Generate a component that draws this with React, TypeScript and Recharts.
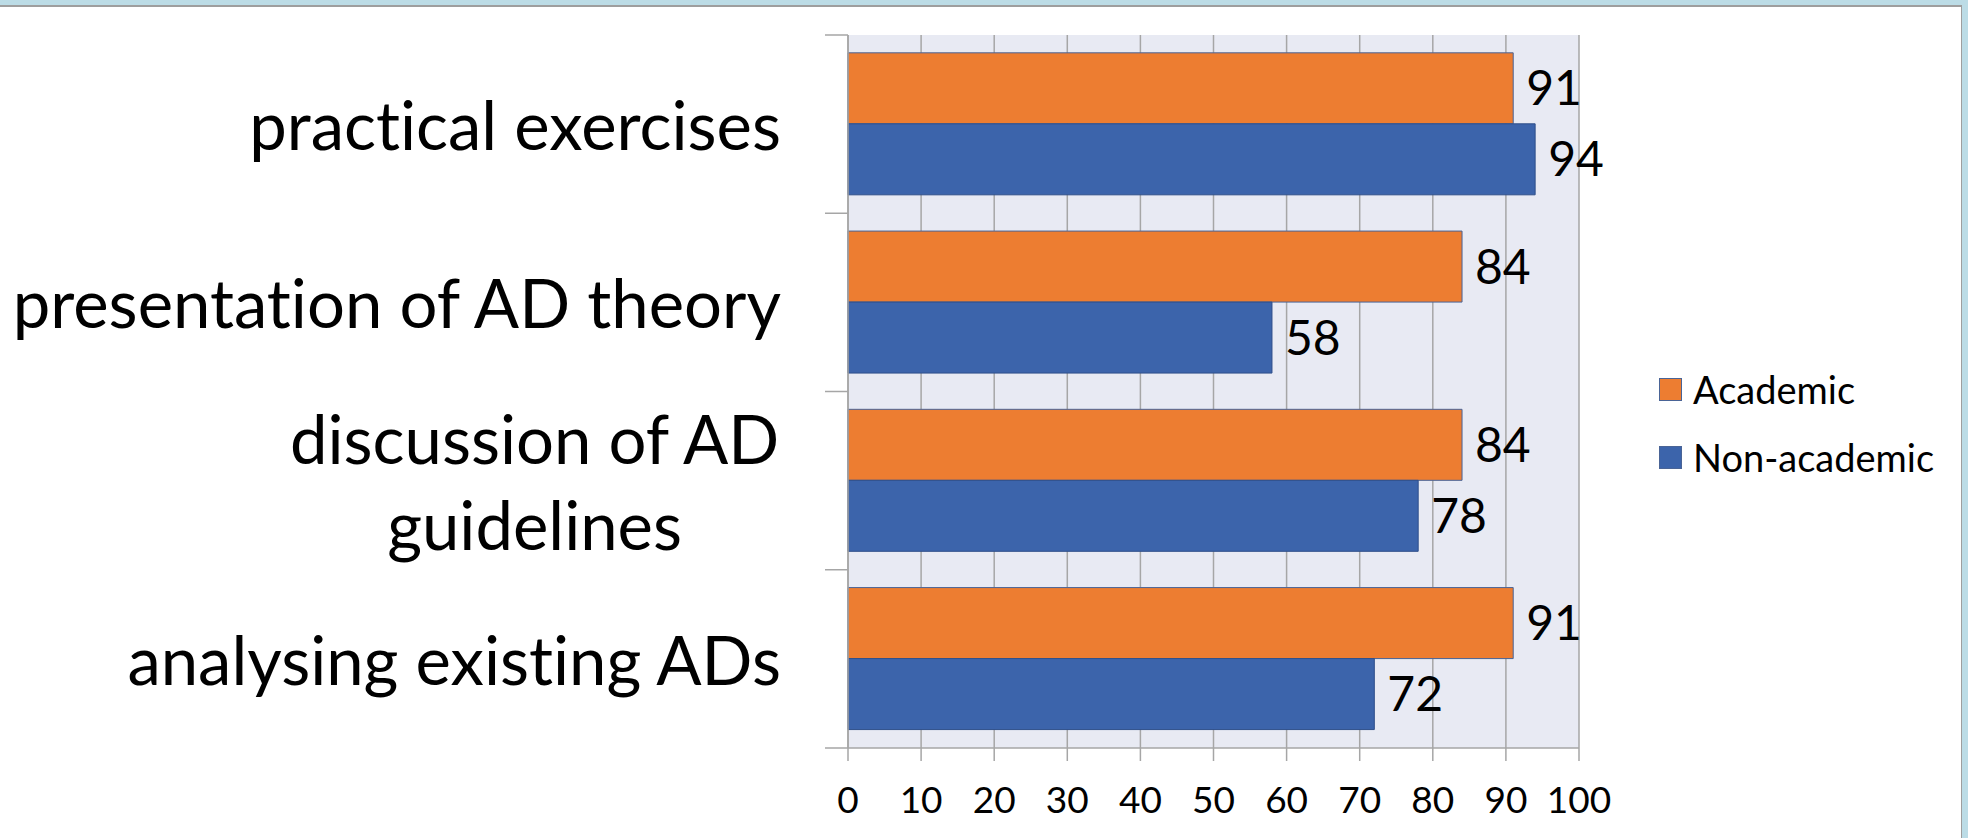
import React from 'react';
import { BarChart, Bar, XAxis, YAxis, CartesianGrid, LabelList, Legend } from 'recharts';

const categories = [
  'practical exercises',
  'presentation of AD theory',
  'discussion of AD\nguidelines',
  'analysing existing ADs',
];
const academic = [91, 84, 84, 91];
const nonAcademic = [94, 58, 78, 72];
const xTicks = [0, 10, 20, 30, 40, 50, 60, 70, 80, 90, 100];
const seriesNames = ['Academic', 'Non-academic'];
const seriesColors = ['#ED7D31', '#3C64AB'];

const data = categories.map((c, i) => ({
  category: c,
  academic: academic[i],
  nonAcademic: nonAcademic[i],
}));

const W = 1968;
const H = 838;
const MARGIN = { top: 35, right: 389, bottom: 0, left: 0 };
const Y_AXIS_W = 848;
const X_AXIS_H = 90;
const BAND = (H - MARGIN.top - MARGIN.bottom - X_AXIS_H) / categories.length;
const FONT = 'Lato, "Open Sans", sans-serif';
const GRID = '#A6A6A6';
const NOLIG = { fontVariantLigatures: 'none', fontFeatureSettings: '"liga" 0, "clig" 0' } as any;

let ctx: CanvasRenderingContext2D | null = null;
const measure = (s: string, size: number) => {
  if (!ctx) ctx = document.createElement('canvas').getContext('2d');
  if (!ctx) return s.length * size * 0.5;
  ctx.font = `${size}px Lato`;
  return ctx.measureText(s).width;
};

const CategoryTick = (props: any) => {
  const { x, y, payload, index } = props;
  const lines = String(payload.value).split('\n');
  const fs = 67;
  const lineH = 86;
  let ax = x;
  let anchor: 'end' | 'middle' = 'end';
  if (lines.length > 1) {
    const w = Math.max(...lines.map((l) => measure(l, fs)));
    ax = x - w / 2;
    anchor = 'middle';
  }
  const half = BAND / 2;
  return (
    <g>
      <line x1={x + 44} x2={x + 67} y1={y - half} y2={y - half} stroke={GRID} strokeWidth={1.5} />
      {index === categories.length - 1 && (
        <line x1={x + 44} x2={x + 67} y1={y + half} y2={y + half} stroke={GRID} strokeWidth={1.5} />
      )}
      <text textAnchor={anchor} fontSize={fs} fontFamily={FONT} fill="#000" style={NOLIG}>
        {lines.map((l, i) => (
          <tspan key={i} x={ax} y={y + 26 + (i - (lines.length - 1) / 2) * lineH}>
            {l}
          </tspan>
        ))}
      </text>
    </g>
  );
};

const renderLegend = (props: any) => {
  const payload = props.payload && props.payload.length ? props.payload : seriesNames.map((n, i) => ({ value: n, color: seriesColors[i] }));
  return (
    <div style={{ fontFamily: FONT, ...NOLIG }}>
      {payload.map((p: any, i: number) => (
        <div key={i} style={{ display: 'flex', alignItems: 'center', height: 68 }}>
          <div style={{ width: 21, height: 21, background: p.color, border: '1px solid #4A6496', marginRight: 11 }} />
          <span style={{ fontSize: 38, color: '#000', lineHeight: '42px' }}>{p.value}</span>
        </div>
      ))}
    </div>
  );
};

export default function App() {
  return (
    <div style={{ position: 'absolute', left: 0, top: 0, width: W, height: H, background: '#fff', overflow: 'hidden' }}>
      <div style={{ position: 'absolute', left: 0, top: 0, width: W, height: 5, background: '#BCDCE6' }} />
      <div style={{ position: 'absolute', left: 0, top: 5, width: 1962, height: 1.5, background: '#9E9E9E' }} />
      <div style={{ position: 'absolute', left: 1962, top: 0, width: 6, height: H, background: '#BCDCE6' }} />
      <div style={{ position: 'absolute', left: 1960.5, top: 5, width: 1.5, height: H, background: '#9E9E9E' }} />
      <BarChart
        width={W}
        height={H}
        data={data}
        layout="vertical"
        margin={MARGIN}
        barCategoryGap="10%"
        barGap={0}
      >
        <CartesianGrid horizontal={false} vertical stroke={GRID} strokeWidth={1.5} fill="#E8EAF3" fillOpacity={1} />
        <XAxis
          type="number"
          domain={[0, 100]}
          ticks={xTicks}
          interval={0}
          height={X_AXIS_H}
          tickSize={13}
          tickMargin={26}
          axisLine={{ stroke: GRID, strokeWidth: 1.5 }}
          tickLine={{ stroke: GRID, strokeWidth: 1.5 }}
          tick={{ fontSize: 37, fill: '#000', fontFamily: FONT }}
        />
        <YAxis
          type="category"
          dataKey="category"
          width={Y_AXIS_W}
          interval={0}
          tickSize={23}
          tickMargin={44}
          tickLine={false}
          axisLine={{ stroke: GRID, strokeWidth: 1.5 }}
          tick={<CategoryTick />}
        />
        <Legend
          layout="horizontal"
          verticalAlign="middle"
          align="center"
          content={renderLegend}
          wrapperStyle={{ left: 1659, top: 355, width: 300 }}
        />
        <Bar dataKey="academic" name={seriesNames[0]} fill={seriesColors[0]} stroke="#4A6496" strokeWidth={1} isAnimationActive={false}>
          <LabelList dataKey="academic" position="right" offset={13} fill="#000" fontSize={48} fontFamily={FONT} />
        </Bar>
        <Bar dataKey="nonAcademic" name={seriesNames[1]} fill={seriesColors[1]} stroke="#2F4F8A" strokeWidth={1} isAnimationActive={false}>
          <LabelList dataKey="nonAcademic" position="right" offset={13} fill="#000" fontSize={48} fontFamily={FONT} />
        </Bar>
      </BarChart>
    </div>
  );
}
